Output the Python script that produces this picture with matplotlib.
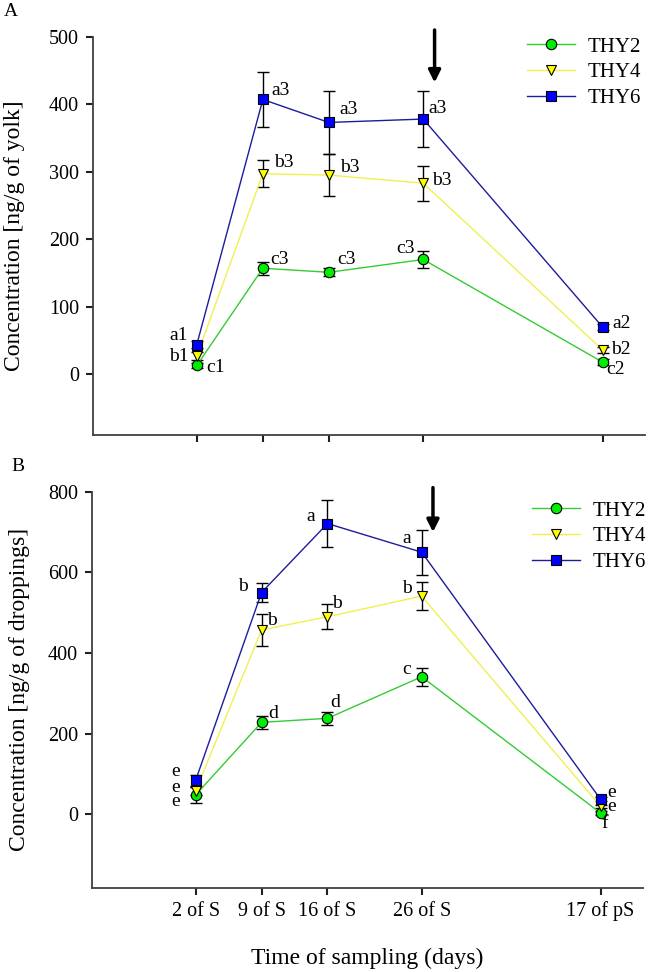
import matplotlib
matplotlib.use("Agg")
import matplotlib.pyplot as plt

# ---------------- data ----------------
days = [2, 9, 16, 26, 45]
tick_labels = ['2 of S', '9 of S', '16 of S', '26 of S', '17 of pS']
series = ['THY2', 'THY4', 'THY6']

A_thy2 = [13, 157, 151, 170, 18]
A_thy2_err = [4, 10, 6, 12, 5]
A_thy4 = [27, 297, 295, 283, 36]
A_thy4_err = [6, 20, 31, 26, 4]
A_thy6 = [44, 407, 373, 378, 70]
A_thy6_err = [5, 41, 47, 42, 5]

B_thy2 = [48, 228, 238, 341, 3]
B_thy2_err = [19, 16, 16, 23, 4]
B_thy4 = [58, 457, 490, 541, 20]
B_thy4_err = [10, 40, 31, 35, 4]
B_thy6 = [84, 550, 721, 650, 37]
B_thy6_err = [13, 24, 58, 56, 5]

A_letters_thy2 = ['c1', 'c3', 'c3', 'c3', 'c2']
A_letters_thy4 = ['b1', 'b3', 'b3', 'b3', 'b2']
A_letters_thy6 = ['a1', 'a3', 'a3', 'a3', 'a2']
B_letters_thy2 = ['e', 'd', 'd', 'c', 'f']
B_letters_thy4 = ['e', 'b', 'b', 'b', 'e']
B_letters_thy6 = ['e', 'b', 'a', 'a', 'e']

# ---------------- styling ----------------
FONT = 'Liberation Serif'
plt.rcParams['font.family'] = [FONT, 'DejaVu Serif']
styles = {
    'THY2': dict(color='#33cc33', marker='o', mfc='#00ee00', ms=7.5),
    'THY4': dict(color='#f0f050', marker='v', mfc='#ffff00', ms=7.5),
    'THY6': dict(color='#1c1c9c', marker='s', mfc='#0000ff', ms=6.5),
}

# label offsets in pixels (dx, dy, ha)
A_off = {
    'THY2': [(9, -2, 'left'), (7, 9, 'left'), (8, 13, 'left'), (-9, 11, 'right'), (4, -7, 'left')],
    'THY4': [(-8, 0, 'right'), (11, 11, 'left'), (11, 8, 'left'), (9, 3, 'left'), (9, 0, 'left')],
    'THY6': [(-9, 9, 'right'), (9, 9, 'left'), (10, 13, 'left'), (5, 11, 'left'), (10, 3, 'left')],
}
B_off = {
    'THY2': [(-16, -7, 'right'), (7, 9, 'left'), (3, 16, 'left'), (-11, 7, 'right'), (1, -10, 'left')],
    'THY4': [(-16, 3, 'right'), (6, 10, 'left'), (5, 13, 'left'), (-10, 8, 'right'), (7, 0, 'left')],
    'THY6': [(-16, 9, 'right'), (-14, 6, 'right'), (-12, 7, 'right'), (-11, 14, 'right'), (7, 7, 'left')],
}

W, H = 648, 972
fig = plt.figure(figsize=(W / 100, H / 100), dpi=100)

axA = fig.add_axes([93 / W, 1 - 435 / H, 552 / W, (435 - 36.7) / H])
axB = fig.add_axes([92 / W, 1 - 887.7 / H, 551 / W, (887.7 - 491.7) / H])

panels = [
    (axA, [(A_thy2, A_thy2_err, A_letters_thy2), (A_thy4, A_thy4_err, A_letters_thy4),
           (A_thy6, A_thy6_err, A_letters_thy6)], A_off, (-90, 500), range(0, 501, 100),
     'Concentration [ng/g of yolk]', (428, 514), 'A'),
    (axB, [(B_thy2, B_thy2_err, B_letters_thy2), (B_thy4, B_thy4_err, B_letters_thy4),
           (B_thy6, B_thy6_err, B_letters_thy6)], B_off, (-182, 800), range(0, 801, 200),
     'Concentration [ng/g of droppings]', (693, 817), 'B'),
]

for ax, data, offs, ylim, yticks, ylabel, arrow_y, plabel in panels:
    for name, (vals, errs, letters) in zip(series, data):
        st = styles[name]
        ax.errorbar(days, vals, yerr=errs, fmt='none', ecolor='black', elinewidth=1.0,
                    capsize=4.5, capthick=1.0, zorder=2)
        ax.plot(days, vals, color=st['color'], lw=1.0, marker=st['marker'],
                mfc=st['mfc'], mec='black', mew=0.8, ms=st['ms'], label=name, zorder=3)
        for xd, v, lab, (dx, dy, ha) in zip(days, vals, letters, offs[name]):
            ax.annotate(lab, xy=(xd, v), xytext=(dx, dy), textcoords='offset pixels',
                        ha=ha, va='center', fontsize=14, annotation_clip=False)
    ax.set_xlim(-9, 49.5)
    ax.set_ylim(*ylim)
    ax.set_yticks(list(yticks))
    ax.set_xticks(days)
    for s in ['top', 'right']:
        ax.spines[s].set_visible(False)
    for s in ['left', 'bottom']:
        ax.spines[s].set_color('#404040')
        ax.spines[s].set_linewidth(1.3)
    ax.tick_params(direction='out', length=5, width=1.5, color='#202020', labelsize=14.5, pad=5)
    ax.set_ylabel(ylabel, fontsize=17)
    ax.annotate('', xy=(27.2, arrow_y[0]), xytext=(27.2, arrow_y[1]),
                arrowprops=dict(arrowstyle='-|>', lw=2.5, color='black', mutation_scale=18),
                annotation_clip=False)
    fig.text(11 / W if plabel == 'A' else 18 / W, 1 - (11 if plabel == 'A' else 466) / H, plabel,
             fontsize=14, ha='center', va='center')

axA.set_xticklabels([])
axB.set_xticklabels(tick_labels)
axA.yaxis.set_label_coords(-0.123, 0.5)
axB.yaxis.set_label_coords(-0.113, 0.5)

axA.legend(loc='upper left', bbox_to_anchor=(527 / W, 1 - 37 / H), bbox_transform=fig.transFigure,
           frameon=False, fontsize=15, handlelength=2.3, handletextpad=0.6, labelspacing=0.3,
           borderpad=0, borderaxespad=0)
axB.legend(loc='upper left', bbox_to_anchor=(532 / W, 1 - 501 / H), bbox_transform=fig.transFigure,
           frameon=False, fontsize=15, handlelength=2.3, handletextpad=0.6, labelspacing=0.3,
           borderpad=0, borderaxespad=0)

fig.text(367.5 / W, 1 - 958 / H, 'Time of sampling (days)', fontsize=17, ha='center', va='center')

fig.savefig('out.png', dpi=100)
